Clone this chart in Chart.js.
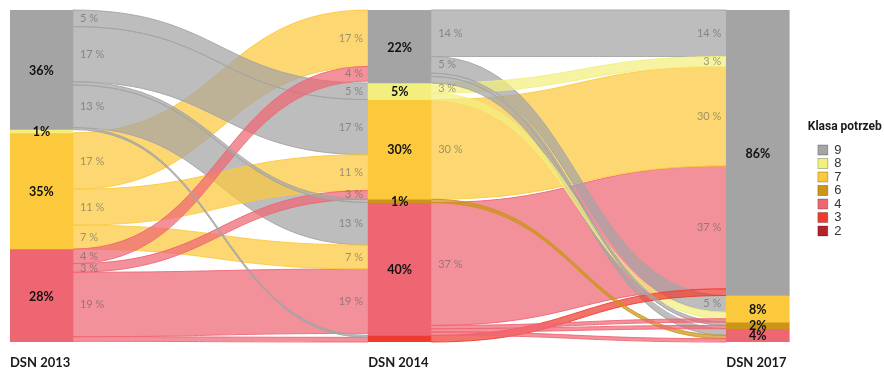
<!DOCTYPE html>
<html>
<head>
<meta charset="utf-8">
<script src="https://cdn.jsdelivr.net/npm/chart.js@4.4.0/dist/chart.umd.min.js"></script>
<style>
  html, body { margin: 0; padding: 0; background: #fff; }
</style>
</head>
<body>
<canvas id="myChart" width="884" height="374"></canvas>
<script>
const columns = ['DSN 2013', 'DSN 2014', 'DSN 2017'];
const classes = ['9', '8', '7', '6', '4', '3', '2'];
const classColors = ['#a4a4a4', '#f2ef7e', '#fcc93c', '#cc9418', '#ef6673', '#ef3b2f', '#b3212b'];
const legendTitle = 'Klasa potrzeb';

// share of each class in each column (%)
const share9 = [36, 22, 86];
const share8 = [1, 5, null];
const share7 = [35, 30, 8];
const share6 = [null, 1, 2];
const share4 = [28, 40, 4];
const share3 = [null, 2, null];
const share2 = [null, null, null];

// flows DSN 2013 -> DSN 2014
const flowFrom1 = ['9', '9', '9', '9', '9', '7', '7', '7', '4', '4', '4', '4'];
const flowTo1 = ['8', '7', '6', '4', '3', '9', '7', '4', '9', '7', '4', '3'];
const flowVal1 = [5, 16.6, 1, 12.8, 0.6, 17, 10.8, 7.2, 4.4, 2.6, 19.4, 1.4];

// flows DSN 2014 -> DSN 2017
const flowFrom2 = ['9', '9', '9', '9', '8', '8', '7', '6', '4', '4', '4', '4', '3'];
const flowTo2 = ['9', '7', '6', '4', '9', '7', '9', '4', '9', '7', '6', '4', '9'];
const flowVal2 = [14, 5, 1, 2, 3, 2, 30, 1, 37, 1, 1, 1, 2];

const silentClasses = ['3'];

const shares = [share9, share8, share7, share6, share4, share3, share2];
const gaps = [
  { from: flowFrom1, to: flowTo1, val: flowVal1 },
  { from: flowFrom2, to: flowTo2, val: flowVal2 },
];

function hexToRgba(hex, a) {
  const n = parseInt(hex.slice(1), 16);
  return `rgba(${(n >> 16) & 255}, ${(n >> 8) & 255}, ${n & 255}, ${a})`;
}

function nodeStart(col, cls) {
  let sum = 0;
  for (let i = 0; i < classes.length; i++) {
    if (classes[i] === cls) break;
    sum += shares[i][col] || 0;
  }
  return sum;
}

function layoutFlows(g) {
  const gap = gaps[g];
  const outUsed = {};
  const inUsed = {};
  const flows = [];
  for (let i = 0; i < gap.val.length; i++) {
    const from = gap.from[i];
    const to = gap.to[i];
    const v = gap.val[i];
    const s0 = nodeStart(g, from) + (outUsed[from] || 0);
    const t0 = nodeStart(g + 1, to) + (inUsed[to] || 0);
    outUsed[from] = (outUsed[from] || 0) + v;
    inUsed[to] = (inUsed[to] || 0) + v;
    flows.push({ from, v, s0, s1: s0 + v, t0, t1: t0 + v });
  }
  return flows;
}

const flowPlugin = {
  id: 'flows',
  beforeDatasetsDraw(chart) {
    const ctx = chart.ctx;
    const xs = chart.scales.x;
    const ys = chart.scales.y;
    const half = chart.getDatasetMeta(0).data[0].width / 2;
    ctx.save();
    gaps.forEach((gap, g) => {
      const x0 = xs.getPixelForValue(g) + half;
      const x1 = xs.getPixelForValue(g + 1) - half;
      const xm = (x0 + x1) / 2;
      const flows = layoutFlows(g).sort((a, b) => b.v - a.v);
      flows.forEach(f => {
        const col = classColors[classes.indexOf(f.from)];
        const a0 = ys.getPixelForValue(f.s0);
        const a1 = ys.getPixelForValue(f.s1);
        const b0 = ys.getPixelForValue(f.t0);
        const b1 = ys.getPixelForValue(f.t1);
        ctx.beginPath();
        ctx.moveTo(x0, a0);
        ctx.bezierCurveTo(xm, a0, xm, b0, x1, b0);
        ctx.lineTo(x1, b1);
        ctx.bezierCurveTo(xm, b1, xm, a1, x0, a1);
        ctx.closePath();
        ctx.fillStyle = hexToRgba(col, 0.72);
        ctx.fill();
        ctx.strokeStyle = hexToRgba(col, 0.9);
        ctx.lineWidth = 1;
        ctx.beginPath();
        ctx.moveTo(x0, a0);
        ctx.bezierCurveTo(xm, a0, xm, b0, x1, b0);
        ctx.moveTo(x0, a1);
        ctx.bezierCurveTo(xm, a1, xm, b1, x1, b1);
        ctx.stroke();
      });
    });
    ctx.restore();
  },
  afterDatasetsDraw(chart) {
    const ctx = chart.ctx;
    const xs = chart.scales.x;
    const ys = chart.scales.y;
    const half = chart.getDatasetMeta(0).data[0].width / 2;
    ctx.save();
    ctx.textBaseline = 'middle';

    // flow labels at both ends
    ctx.font = '11px Lato';
    ctx.fillStyle = 'rgba(95, 95, 95, 0.6)';
    gaps.forEach((gap, g) => {
      const x0 = xs.getPixelForValue(g) + half;
      const x1 = xs.getPixelForValue(g + 1) - half;
      layoutFlows(g).forEach(f => {
        if (f.v < 2.5) return;
        const txt = Math.round(f.v) + ' %';
        ctx.textAlign = 'left';
        ctx.fillText(txt, x0 + 7, ys.getPixelForValue((f.s0 + f.s1) / 2));
        ctx.textAlign = 'right';
        ctx.fillText(txt, x1 - 5, ys.getPixelForValue((f.t0 + f.t1) / 2));
      });
    });

    // node labels
    ctx.font = 'bold 12.5px Lato';
    ctx.fillStyle = '#111';
    ctx.textAlign = 'center';
    chart.data.datasets.forEach((ds, di) => {
      if (silentClasses.includes(ds.label)) return;
      chart.getDatasetMeta(di).data.forEach((el, j) => {
        const v = ds.data[j].y;
        ctx.fillText(Math.round(v) + '%', el.x, (el.y + el.base) / 2 + 1);
      });
    });
    ctx.restore();
  },
  afterDraw(chart) {
    // legend heading, placed above the legend items
    const lg = chart.legend;
    const first = lg.legendHitBoxes[0];
    const ctx = chart.ctx;
    ctx.save();
    ctx.font = 'bold 12px Roboto';
    ctx.fillStyle = '#1a1a1a';
    ctx.textAlign = 'left';
    ctx.textBaseline = 'middle';
    ctx.fillText(legendTitle, first.left - 10, first.top - 17);
    ctx.restore();
  }
};

const datasets = classes.map((cls, i) => ({
  label: cls,
  data: shares[i]
    .map((v, col) => (v == null ? null : { x: col, y: v }))
    .filter(d => d !== null),
  backgroundColor: classColors[i],
  borderWidth: 0,
  barThickness: 63,
}));

const ctx = document.getElementById('myChart').getContext('2d');
const myChart = new Chart(ctx, {
  type: 'bar',
  data: { datasets },
  plugins: [flowPlugin],
  options: {
    responsive: false,
    animation: false,
    layout: { padding: { top: 10, left: 10, right: 32.5, bottom: 3 } },
    scales: {
      x: {
        type: 'linear',
        stacked: true,
        offset: false,
        min: -0.0879,
        max: 2.1661,
        grid: { display: false, drawTicks: false, offset: false },
        border: { display: false },
        afterBuildTicks(scale) {
          scale.ticks = columns.map((c, i) => ({ value: i }));
        },
        afterFit(scale) {
          scale.paddingLeft = 0;
          scale.paddingRight = 0;
          scale.height = 29;
        },
        ticks: {
          align: 'start',
          labelOffset: -31.5,
          padding: 13,
          maxRotation: 0,
          autoSkip: false,
          color: '#1a1a1a',
          font: { family: 'Lato', size: 13, weight: 'bold' },
          callback: (v) => columns[v],
        },
      },
      y: {
        stacked: true,
        reverse: true,
        min: 0,
        max: 100,
        display: false,
      },
    },
    plugins: {
      tooltip: { enabled: false },
      legend: {
        position: 'right',
        align: 'center',
        labels: {
          boxWidth: 10,
          boxHeight: 10,
          padding: 0.5,
          color: '#333',
          font: { family: 'Liberation Sans', size: 13 },
          generateLabels(chart) {
            return Chart.defaults.plugins.legend.labels.generateLabels(chart).map(item => {
              item.lineWidth = 1;
              item.strokeStyle = 'rgba(0, 0, 0, 0.25)';
              return item;
            });
          },
        },
      },
    },
  },
});
</script>
</body>
</html>
